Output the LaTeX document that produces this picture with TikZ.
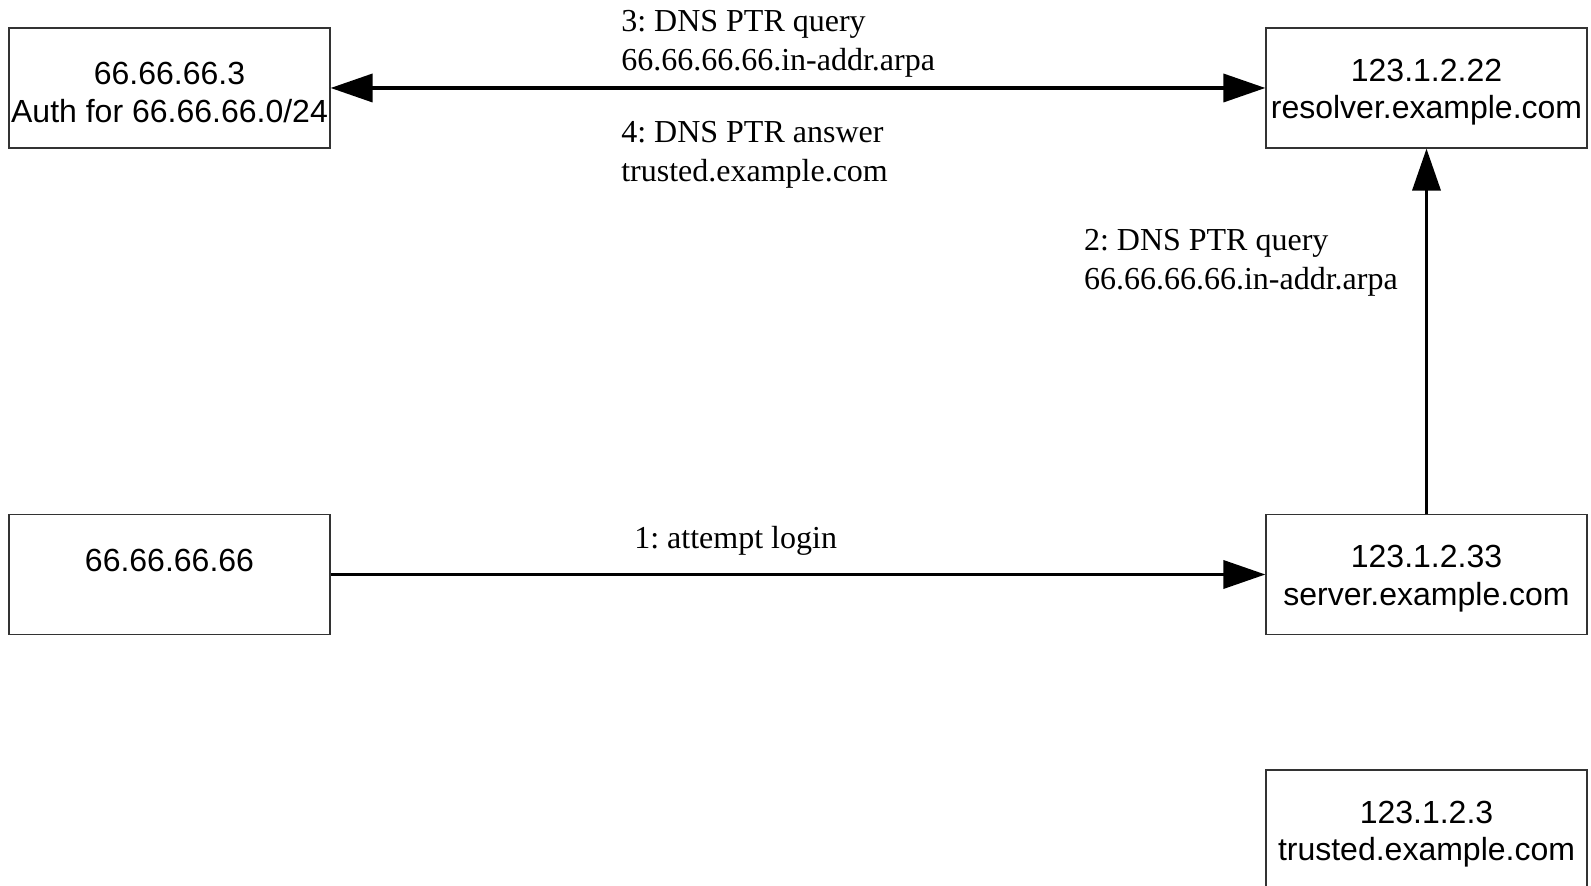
\documentclass[tikz,border=0pt]{standalone}
\usepackage{fontspec}
\setmainfont{Liberation Serif}
\setsansfont{Liberation Sans}
\frenchspacing
\usepackage{tikz}
\usetikzlibrary{arrows.meta,positioning}

\newcommand{\hoststrut}{\rule{0pt}{15.5pt}}

\begin{document}
\begin{tikzpicture}[node distance=628.5pt, >={Triangle[length=21pt,width=14pt]}, line width=1.8pt]
    \tikzstyle{host} = [draw=black!80, line width=0.6pt, rectangle, minimum width=160.5pt, minimum height=60pt, align=center, inner sep=0pt, font=\sffamily\fontsize{16}{18.8}\selectfont]
    \tikzstyle{msg} = [align=left, inner sep=0pt, font=\fontsize{16}{19.2}\selectfont]

    \useasboundingbox (0,0) rectangle (795.5pt,-443pt);

    \node [host] (auth) at (84.75pt,-44pt) {\hoststrut 66.66.66.3\\Auth for 66.66.66.0/24};
    \node [host, right of=auth] (resolver) {\hoststrut 123.1.2.22\\resolver.example.com};
    \node [host, below of=auth, node distance=243.25pt] (client) {\hoststrut 66.66.66.66\\\mbox{}};
    \node [host, right of=client] (server) {\hoststrut 123.1.2.33\\server.example.com};
    \node [host, below of=server, node distance=127.75pt] (trusted) {\hoststrut 123.1.2.3\\trusted.example.com};

    \draw [->] (client) -- node[msg, pos=0.323, anchor=south west, yshift=8.5pt] (login) {1: attempt login} (server);
    \draw [->] (server) -- node[msg, pos=0.783, anchor=north east, xshift=-13.5pt] (query2) {2: DNS PTR query\\66.66.66.66.in-addr.arpa} (resolver);
    \draw [<->] (auth) -- node[msg, pos=0.309, anchor=south west, yshift=4.5pt] (query3) {3: DNS PTR query\\66.66.66.66.in-addr.arpa}
        node[msg, pos=0.309, anchor=north west, yshift=-16pt] (answer4) {4: DNS PTR answer\\trusted.example.com} (resolver);
\end{tikzpicture}
\end{document}
